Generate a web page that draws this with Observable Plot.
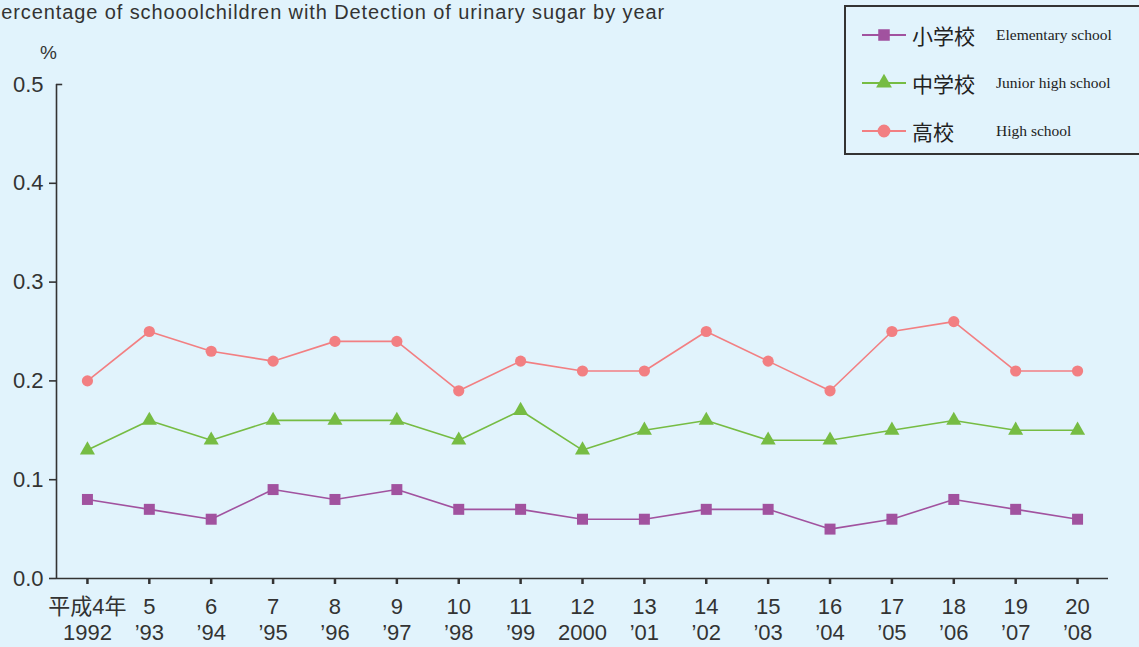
<!DOCTYPE html>
<html>
<head>
<meta charset="utf-8">
<script src="https://cdn.jsdelivr.net/npm/d3@7"></script>
<script src="https://cdn.jsdelivr.net/npm/@observablehq/plot@0.6"></script>
<style>
  html, body { margin: 0; padding: 0; background: #e1f3fc; }
  body { width: 1139px; height: 647px; position: relative; overflow: hidden;
         font-family: "Liberation Sans", "Noto Sans CJK JP", sans-serif; }
  #title { position: absolute; left: -13px; top: 1px; font-size: 20px; letter-spacing: 0.9px; color: #333; white-space: nowrap; }
  #pct { position: absolute; left: 40px; top: 42px; font-size: 19px; color: #333; }
  #legend { position: absolute; left: 844px; top: 5px; width: 310px; height: 146px;
            border: 2px solid #333; box-sizing: content-box; }
  .item { position: absolute; left: 15px; height: 30px; display: flex; align-items: center; }
  .item svg { display: block; }
  .jp { font-family: "Noto Sans CJK JP", sans-serif; font-size: 21px; color: #222; margin-left: 5px; width: 84px; }
  .en { font-family: "Liberation Serif", serif; font-size: 15.5px; color: #222; }
  #chart { position: absolute; left: 0; top: 0; }
</style>
</head>
<body>
<div id="chart"></div>
<div id="title">Percentage of schooolchildren with Detection of urinary sugar by year</div>
<div id="pct">%</div>
<div id="legend"></div>
<script>
const years = [1992,1993,1994,1995,1996,1997,1998,1999,2000,2001,2002,2003,2004,2005,2006,2007,2008];
const yearLabels = ["平成4年\n1992","5\n’93","6\n’94","7\n’95","8\n’96","9\n’97","10\n’98","11\n’99","12\n2000","13\n’01","14\n’02","15\n’03","16\n’04","17\n’05","18\n’06","19\n’07","20\n’08"];
const elementary = [0.08,0.07,0.06,0.09,0.08,0.09,0.07,0.07,0.06,0.06,0.07,0.07,0.05,0.06,0.08,0.07,0.06];
const juniorHigh = [0.13,0.16,0.14,0.16,0.16,0.16,0.14,0.17,0.13,0.15,0.16,0.14,0.14,0.15,0.16,0.15,0.15];
const highSchool = [0.20,0.25,0.23,0.22,0.24,0.24,0.19,0.22,0.21,0.21,0.25,0.22,0.19,0.25,0.26,0.21,0.21];
const seriesNames = ["小学校","中学校","高校"];
const seriesEnglish = ["Elementary school","Junior high school","High school"];
const seriesColors = ["#a1529f","#76bc43","#f27f82"];
const seriesSymbols = ["square","triangle","circle"];
const seriesR = [6.2,5.6,5.6];
const yTicks = [0,0.1,0.2,0.3,0.4,0.5];

const seriesValues = [elementary, juniorHigh, highSchool];
const rows = [];
seriesValues.forEach((vals, si) => vals.forEach((v, i) => rows.push({year: years[i], value: v, s: si})));

const x0 = years[0] - 0.5, x1 = years[years.length-1] + 0.5;
const axisColor = "#333";
const fmt = d3.format(".1f");
const marks = [];
marks.push(Plot.ruleY([0], {x1: x0, x2: x1, stroke: axisColor, strokeWidth: 1.6}));
marks.push(Plot.ruleX([x0], {y1: 0, y2: 0.5, stroke: axisColor, strokeWidth: 1.6}));
marks.push(Plot.ruleY([0.5], {x1: x0, x2: x0 + 0.1, stroke: axisColor, strokeWidth: 1.6}));
marks.push(Plot.axisY({ticks: yTicks.slice(0,5), tickSize: 7, tickPadding: 6, tickFormat: fmt,
  fontSize: 22, stroke: axisColor, fill: axisColor, strokeWidth: 1.6, label: null}));
marks.push(Plot.axisY({ticks: [0.5], tickSize: 0, tickPadding: 13, tickFormat: fmt,
  fontSize: 22, fill: axisColor, label: null}));
marks.push(Plot.axisX({ticks: years, tickSize: 6, tickPadding: 12, tickFormat: d => yearLabels[years.indexOf(d)],
  fontSize: 22, lineHeight: 1.15, stroke: axisColor, fill: axisColor, strokeWidth: 2.5, label: null}));
seriesValues.forEach((vals, si) => {
  const data = rows.filter(r => r.s === si);
  marks.push(Plot.line(data, {x: "year", y: "value", stroke: seriesColors[si], strokeWidth: 1.6}));
  marks.push(Plot.dot(data, {x: "year", y: "value", symbol: seriesSymbols[si], fill: seriesColors[si], stroke: "none", r: seriesR[si]}));
});

const chart = Plot.plot({
  width: 1139, height: 647,
  marginLeft: 56, marginRight: 31, marginTop: 84, marginBottom: 69,
  style: {background: "transparent", fontFamily: '"Liberation Sans", "Noto Sans CJK JP", sans-serif', color: "#333"},
  x: {domain: [x0, x1]},
  y: {domain: [0, 0.5]},
  marks
});
document.getElementById("chart").append(chart);

// Legend
const legend = document.getElementById("legend");
const rowTops = [13, 61, 109];
seriesNames.forEach((name, i) => {
  const item = document.createElement("div");
  item.className = "item";
  item.style.top = rowTops[i] + "px";
  const ns = "http://www.w3.org/2000/svg";
  const svg = document.createElementNS(ns, "svg");
  svg.setAttribute("width", 46); svg.setAttribute("height", 30);
  const line = document.createElementNS(ns, "line");
  line.setAttribute("x1", 1); line.setAttribute("x2", 45); line.setAttribute("y1", 15); line.setAttribute("y2", 15);
  line.setAttribute("stroke", seriesColors[i]); line.setAttribute("stroke-width", 2);
  svg.append(line);
  const path = document.createElementNS(ns, "path");
  const sym = seriesSymbols[i] === "square" ? d3.symbolSquare : seriesSymbols[i] === "triangle" ? d3.symbolTriangle : d3.symbolCircle;
  path.setAttribute("d", d3.symbol(sym, Math.PI * seriesR[i] * seriesR[i] * (i === 2 ? 1.3 : 1.1))());
  path.setAttribute("transform", "translate(23,15)");
  path.setAttribute("fill", seriesColors[i]);
  svg.append(path);
  item.append(svg);
  const jp = document.createElement("span"); jp.className = "jp"; jp.textContent = name;
  const en = document.createElement("span"); en.className = "en"; en.textContent = seriesEnglish[i];
  item.append(jp, en);
  legend.append(item);
});
</script>
</body>
</html>
